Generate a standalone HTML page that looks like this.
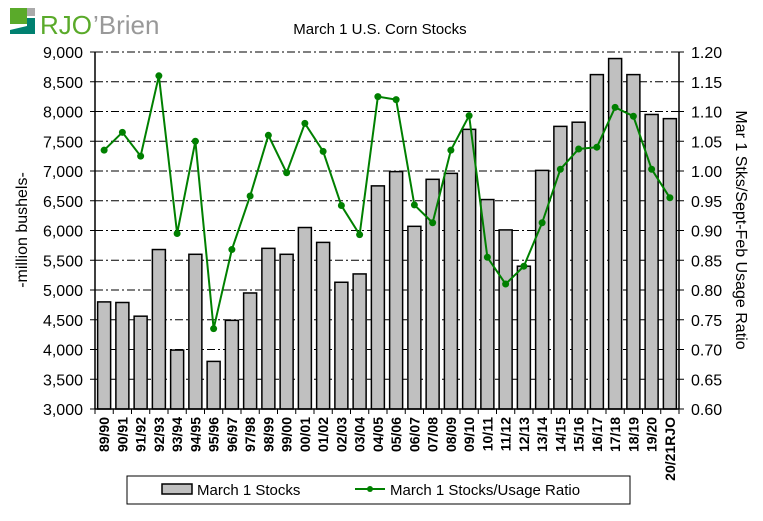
<!DOCTYPE html>
<html><head><meta charset="utf-8"><style>
body{margin:0;background:#fff;}
svg text{font-family:"Liberation Sans",Arial,sans-serif;}
</style></head><body>
<svg width="763" height="516" xmlns="http://www.w3.org/2000/svg">
<g>
<rect x="10" y="8" width="17" height="16" fill="#5aaa2a"/>
<rect x="27" y="8" width="8" height="8" fill="#aaa"/>
<polygon points="10,34 35,34 35,18 27,18 27,26 10,30" fill="#008070"/>
<text x="40" y="34" font-size="26" fill="#5aaa2a" font-family="Liberation Serif">RJO</text>
<text x="93" y="34" font-size="26" fill="#999" font-family="Liberation Serif">’Brien</text>
</g>
<text x="380" y="34" font-size="15" text-anchor="middle">March 1 U.S. Corn Stocks</text>
<g id="grid"></g><g id="bars"></g><g id="line"></g><g id="axes"></g>
<text transform="translate(27,230) rotate(-90)" font-size="16" text-anchor="middle">-million bushels-</text>
<text transform="translate(736,230) rotate(90)" font-size="16" text-anchor="middle">Mar 1 Stks/Sept-Feb Usage Ratio</text>
<g>
<rect x="127" y="476" width="503" height="28" fill="#fff" stroke="#000"/>
<rect x="162" y="484" width="30" height="10" fill="#c0c0c0" stroke="#000" stroke-width="1.5"/>
<text x="197" y="495" font-size="15">March 1 Stocks</text>
<line x1="355" y1="489" x2="385" y2="489" stroke="#008000" stroke-width="2"/>
<circle cx="370" cy="489" r="3" fill="#008000"/>
<text x="390" y="495" font-size="15">March 1 Stocks/Usage Ratio</text>
</g>
</svg>
<script>
const categories=["89/90","90/91","91/92","92/93","93/94","94/95","95/96","96/97","97/98","98/99","99/00","00/01","01/02","02/03","03/04","04/05","05/06","06/07","07/08","08/09","09/10","10/11","11/12","12/13","13/14","14/15","15/16","16/17","17/18","18/19","19/20","20/21RJO"];
const stocks=[4800,4790,4560,5680,3990,5600,3800,4490,4950,5700,5600,6050,5800,5130,5270,6750,6990,6070,6860,6960,7700,6520,6010,5400,7010,7750,7820,8620,8890,8620,7950,7880];
const ratio=[1.035,1.065,1.025,1.16,0.895,1.05,0.735,0.868,0.958,1.06,0.997,1.08,1.033,0.942,0.893,1.125,1.12,0.943,0.913,1.035,1.093,0.855,0.81,0.84,0.913,1.003,1.037,1.04,1.107,1.092,1.003,0.955];
const leftTicks=[3000,3500,4000,4500,5000,5500,6000,6500,7000,7500,8000,8500,9000];
const rightTicks=[0.60,0.65,0.70,0.75,0.80,0.85,0.90,0.95,1.00,1.05,1.10,1.15,1.20];
const NS="http://www.w3.org/2000/svg";
const L=95,R=679,T=52,B=409,step=(R-L)/categories.length;
const y=v=>B-(v-3000)/6000*(B-T);
const y2=v=>B-(v-0.6)/0.6*(B-T);
const cx=i=>L+step*(i+0.5);
function mk(p,tag,a){const e=document.createElementNS(NS,tag);for(const k in a)e.setAttribute(k,a[k]);document.getElementById(p).appendChild(e);return e;}
leftTicks.forEach(v=>{
 if(v>3000){const g=mk('grid','line',{x1:L,x2:R,y1:y(v),y2:y(v),stroke:'#000','stroke-dasharray':'8,3,2,3'});
 
 }
 mk('axes','line',{x1:L-5,x2:L,y1:y(v),y2:y(v),stroke:'#000'});
 const t=mk('axes','text',{x:L-12,y:y(v)+6,'font-size':16,'text-anchor':'end'});t.textContent=v.toLocaleString('en-US');
 
 
});
rightTicks.forEach(v=>{
 mk('axes','line',{x1:R,x2:R+5,y1:y2(v),y2:y2(v),stroke:'#000'});
 const t=mk('axes','text',{x:R+12,y:y2(v)+6,'font-size':16});t.textContent=v.toFixed(2);
 
 
});
stocks.forEach((v,i)=>{
 const b=mk('bars','rect',{x:cx(i)-6.5,y:y(v),width:13,height:B-y(v),fill:'#c0c0c0',stroke:'#000','stroke-width':1.5});
 
 
});
const pts=ratio.map((v,i)=>cx(i)+','+y2(v)).join(' ');
const pl=mk('line','polyline',{points:pts,fill:'none',stroke:'#008000','stroke-width':2});


ratio.forEach((v,i)=>{const c=mk('line','circle',{cx:cx(i),cy:y2(v),r:3.5,fill:'#008000'});
 
 });
mk('axes','line',{x1:L,x2:L,y1:T,y2:B,stroke:'#000','stroke-width':1.5});
mk('axes','line',{x1:R,x2:R,y1:T,y2:B,stroke:'#000','stroke-width':1.5});
mk('axes','line',{x1:L,x2:R,y1:B,y2:B,stroke:'#000','stroke-width':1.5});
mk('axes','line',{x1:L,x2:R,y1:T,y2:T,stroke:'#000','stroke-dasharray':'8,3,2,3'});
categories.forEach((c,i)=>{
 mk('axes','line',{x1:L+step*i,x2:L+step*i,y1:B,y2:B+5,stroke:'#000'});
 const t=mk('axes','text',{transform:`translate(${cx(i)+5},417) rotate(-90)`,'font-size':14,'font-weight':'bold','text-anchor':'end'});
 t.textContent=c;
 
 
});
mk('axes','line',{x1:R,x2:R,y1:B,y2:B+5,stroke:'#000'});
</script>
</body></html>
